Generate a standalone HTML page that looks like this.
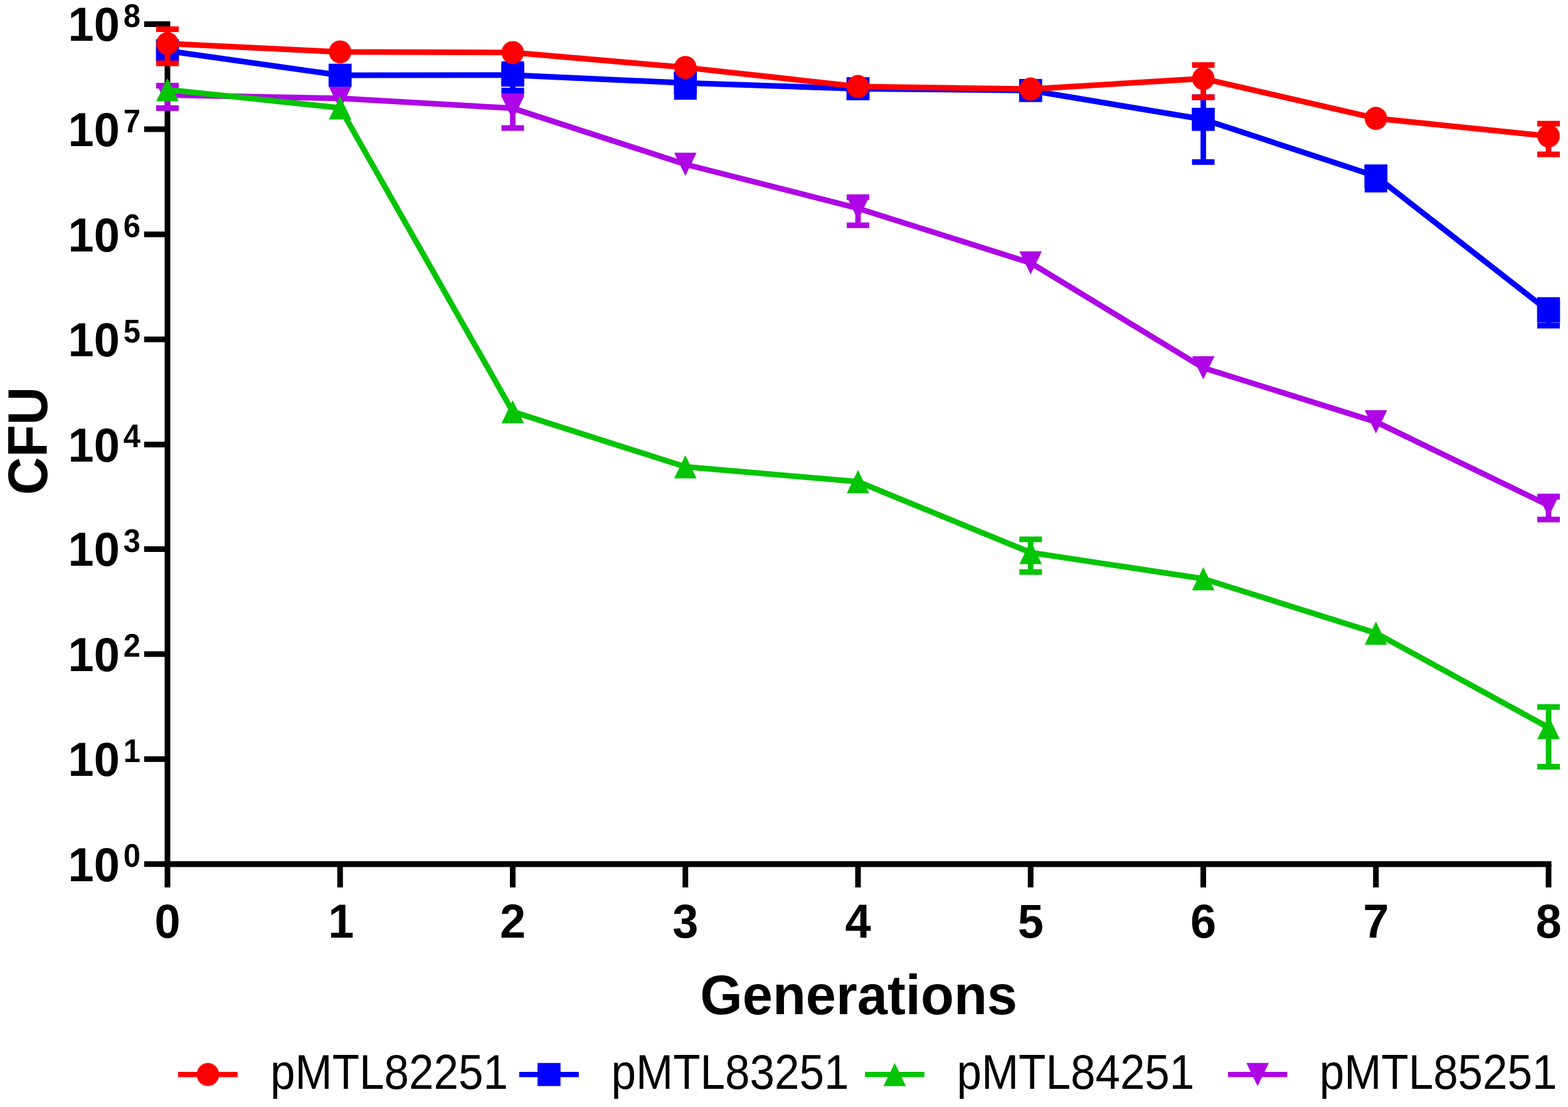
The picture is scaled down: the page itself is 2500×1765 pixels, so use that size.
<!DOCTYPE html>
<html lang="en"><head><meta charset="utf-8"><title>Plasmid stability: CFU over generations</title>
<style>html,body{margin:0;padding:0;background:#fff}body{width:2500px;height:1765px;overflow:hidden}svg{display:block}text{font-family:"Liberation Sans",sans-serif;fill:#000}.b{font-weight:bold}</style>
</head><body>
<svg width="2500" height="1765" viewBox="0 0 2500 1765">
<rect width="2500" height="1765" fill="#ffffff"/>
<g fill="#000000"><rect x="262.5" y="34" width="9" height="1348.2"/><rect x="262.5" y="1373.1" width="2211" height="9.3"/><rect x="229.8" y="1373.2" width="37.2" height="9"/><rect x="229.8" y="1205.8" width="37.2" height="9"/><rect x="229.8" y="1038.4" width="37.2" height="9"/><rect x="229.8" y="871" width="37.2" height="9"/><rect x="229.8" y="704.3" width="37.2" height="9"/><rect x="229.8" y="536.6" width="37.2" height="9"/><rect x="229.8" y="369.2" width="37.2" height="9"/><rect x="229.8" y="201.5" width="37.2" height="9"/><rect x="229.8" y="34" width="37.2" height="9"/><rect x="262.5" y="1377.7" width="9" height="37.2"/><rect x="537.75" y="1377.7" width="9" height="37.2"/><rect x="813" y="1377.7" width="9" height="37.2"/><rect x="1088.25" y="1377.7" width="9" height="37.2"/><rect x="1363.5" y="1377.7" width="9" height="37.2"/><rect x="1638.75" y="1377.7" width="9" height="37.2"/><rect x="1914" y="1377.7" width="9" height="37.2"/><rect x="2189.25" y="1377.7" width="9" height="37.2"/><rect x="2464.5" y="1377.7" width="9" height="37.2"/></g>
<g><text class="b" transform="translate(108.6 1404.5) scale(1 1.035)" font-size="74">10</text><text class="b" transform="translate(196.8 1382.2) scale(1 1.055)" font-size="49">0</text><text class="b" transform="translate(108.6 1237.1) scale(1 1.035)" font-size="74">10</text><text class="b" transform="translate(196.8 1214.8) scale(1 1.055)" font-size="49">1</text><text class="b" transform="translate(108.6 1069.7) scale(1 1.035)" font-size="74">10</text><text class="b" transform="translate(196.8 1047.4) scale(1 1.055)" font-size="49">2</text><text class="b" transform="translate(108.6 902.3) scale(1 1.035)" font-size="74">10</text><text class="b" transform="translate(196.8 880) scale(1 1.055)" font-size="49">3</text><text class="b" transform="translate(108.6 735.6) scale(1 1.035)" font-size="74">10</text><text class="b" transform="translate(196.8 713.3) scale(1 1.055)" font-size="49">4</text><text class="b" transform="translate(108.6 567.9) scale(1 1.035)" font-size="74">10</text><text class="b" transform="translate(196.8 545.6) scale(1 1.055)" font-size="49">5</text><text class="b" transform="translate(108.6 400.5) scale(1 1.035)" font-size="74">10</text><text class="b" transform="translate(196.8 378.2) scale(1 1.055)" font-size="49">6</text><text class="b" transform="translate(108.6 232.8) scale(1 1.035)" font-size="74">10</text><text class="b" transform="translate(196.8 210.5) scale(1 1.055)" font-size="49">7</text><text class="b" transform="translate(108.6 65.3) scale(1 1.035)" font-size="74">10</text><text class="b" transform="translate(196.8 43) scale(1 1.055)" font-size="49">8</text><text class="b" transform="translate(267 1494.8) scale(1 1.035)" font-size="74" text-anchor="middle">0</text><text class="b" transform="translate(543.75 1494.8) scale(1 1.035)" font-size="74" text-anchor="middle">1</text><text class="b" transform="translate(817.5 1494.8) scale(1 1.035)" font-size="74" text-anchor="middle">2</text><text class="b" transform="translate(1092.75 1494.8) scale(1 1.035)" font-size="74" text-anchor="middle">3</text><text class="b" transform="translate(1368 1494.8) scale(1 1.035)" font-size="74" text-anchor="middle">4</text><text class="b" transform="translate(1643.25 1494.8) scale(1 1.035)" font-size="74" text-anchor="middle">5</text><text class="b" transform="translate(1918.5 1494.8) scale(1 1.035)" font-size="74" text-anchor="middle">6</text><text class="b" transform="translate(2193.75 1494.8) scale(1 1.035)" font-size="74" text-anchor="middle">7</text><text class="b" transform="translate(2469 1494.8) scale(1 1.035)" font-size="74" text-anchor="middle">8</text><text class="b" transform="translate(1369.15 1616.6) scale(1 1.037)" font-size="86.7" text-anchor="middle">Generations</text><text class="b" transform="translate(75.1 703.1) rotate(-90) scale(1 1.071)" font-size="83.9" text-anchor="middle">CFU</text></g>
<g><polyline points="267,151.5 542.25,156.8 817.5,172.6 1092.75,262 1368,332.2 1643.25,419.2 1918.5,586.5 2193.75,672.6 2469,805.8" fill="none" stroke="#ae06e6" stroke-width="9" stroke-linejoin="round"/><rect x="262.6" y="136.6" width="8.8" height="35.8" fill="#ae06e6"/><rect x="249" y="132.1" width="36" height="9" fill="#ae06e6"/><rect x="249" y="167.9" width="36" height="9" fill="#ae06e6"/><rect x="813.1" y="150.7" width="8.8" height="53.4" fill="#ae06e6"/><rect x="799.5" y="146.2" width="36" height="9" fill="#ae06e6"/><rect x="799.5" y="199.6" width="36" height="9" fill="#ae06e6"/><rect x="1363.6" y="314.4" width="8.8" height="44.8" fill="#ae06e6"/><rect x="1350" y="309.9" width="36" height="9" fill="#ae06e6"/><rect x="1350" y="354.7" width="36" height="9" fill="#ae06e6"/><rect x="2464.6" y="792.1" width="8.8" height="36.2" fill="#ae06e6"/><rect x="2451" y="787.6" width="36" height="9" fill="#ae06e6"/><rect x="2451" y="823.8" width="36" height="9" fill="#ae06e6"/><polygon points="249.1,133 284.9,133 267,170" fill="#ae06e6"/><polygon points="524.35,138.3 560.15,138.3 542.25,175.3" fill="#ae06e6"/><polygon points="799.6,154.1 835.4,154.1 817.5,191.1" fill="#ae06e6"/><polygon points="1074.85,243.5 1110.65,243.5 1092.75,280.5" fill="#ae06e6"/><polygon points="1350.1,313.7 1385.9,313.7 1368,350.7" fill="#ae06e6"/><polygon points="1625.35,400.7 1661.15,400.7 1643.25,437.7" fill="#ae06e6"/><polygon points="1900.6,568 1936.4,568 1918.5,605" fill="#ae06e6"/><polygon points="2175.85,654.1 2211.65,654.1 2193.75,691.1" fill="#ae06e6"/><polygon points="2451.1,787.3 2486.9,787.3 2469,824.3" fill="#ae06e6"/></g>
<g><polyline points="267,143 542.25,172 817.5,656.4 1092.75,744.3 1368,768 1643.25,881 1918.5,922.7 2193.75,1009.4 2469,1160" fill="none" stroke="#05c405" stroke-width="9" stroke-linejoin="round"/><rect x="1638.85" y="859.9" width="8.8" height="52.1" fill="#05c405"/><rect x="1625.25" y="855.4" width="36" height="9" fill="#05c405"/><rect x="1625.25" y="907.5" width="36" height="9" fill="#05c405"/><rect x="2464.6" y="1127.2" width="8.8" height="95.3" fill="#05c405"/><rect x="2451" y="1122.7" width="36" height="9" fill="#05c405"/><rect x="2451" y="1218" width="36" height="9" fill="#05c405"/><polygon points="267,124.5 284.9,161.5 249.1,161.5" fill="#05c405"/><polygon points="542.25,153.5 560.15,190.5 524.35,190.5" fill="#05c405"/><polygon points="817.5,637.9 835.4,674.9 799.6,674.9" fill="#05c405"/><polygon points="1092.75,725.8 1110.65,762.8 1074.85,762.8" fill="#05c405"/><polygon points="1368,749.5 1385.9,786.5 1350.1,786.5" fill="#05c405"/><polygon points="1643.25,862.5 1661.15,899.5 1625.35,899.5" fill="#05c405"/><polygon points="1918.5,904.2 1936.4,941.2 1900.6,941.2" fill="#05c405"/><polygon points="2193.75,990.9 2211.65,1027.9 2175.85,1027.9" fill="#05c405"/><polygon points="2469,1141.5 2486.9,1178.5 2451.1,1178.5" fill="#05c405"/></g>
<g><polyline points="267,81 542.25,120 817.5,119.8 1092.75,132.3 1368,141.5 1643.25,144.3 1918.5,190.3 2193.75,281 2469,496" fill="none" stroke="#0000ff" stroke-width="9" stroke-linejoin="round"/><rect x="813.1" y="102.2" width="8.8" height="42.2" fill="#0000ff"/><rect x="799.5" y="97.7" width="36" height="9" fill="#0000ff"/><rect x="799.5" y="139.9" width="36" height="9" fill="#0000ff"/><rect x="1088.35" y="118.5" width="8.8" height="36" fill="#0000ff"/><rect x="1074.75" y="114" width="36" height="9" fill="#0000ff"/><rect x="1074.75" y="150" width="36" height="9" fill="#0000ff"/><rect x="1914.1" y="155" width="8.8" height="103.4" fill="#0000ff"/><rect x="1900.5" y="150.5" width="36" height="9" fill="#0000ff"/><rect x="1900.5" y="253.9" width="36" height="9" fill="#0000ff"/><rect x="2189.35" y="266.8" width="8.8" height="35.5" fill="#0000ff"/><rect x="2175.75" y="262.3" width="36" height="9" fill="#0000ff"/><rect x="2175.75" y="297.8" width="36" height="9" fill="#0000ff"/><rect x="2464.6" y="478.3" width="8.8" height="40.9" fill="#0000ff"/><rect x="2451" y="473.8" width="36" height="9" fill="#0000ff"/><rect x="2451" y="514.7" width="36" height="9" fill="#0000ff"/><rect x="248.65" y="62.6" width="36.7" height="36.8" fill="#0000ff"/><rect x="523.9" y="101.6" width="36.7" height="36.8" fill="#0000ff"/><rect x="799.15" y="101.4" width="36.7" height="36.8" fill="#0000ff"/><rect x="1074.4" y="113.9" width="36.7" height="36.8" fill="#0000ff"/><rect x="1349.65" y="123.1" width="36.7" height="36.8" fill="#0000ff"/><rect x="1624.9" y="125.9" width="36.7" height="36.8" fill="#0000ff"/><rect x="1900.15" y="171.9" width="36.7" height="36.8" fill="#0000ff"/><rect x="2175.4" y="262.6" width="36.7" height="36.8" fill="#0000ff"/><rect x="2450.65" y="477.6" width="36.7" height="36.8" fill="#0000ff"/></g>
<g><polyline points="267,69.5 542.25,82.8 817.5,83.8 1092.75,107.6 1368,138 1643.25,142 1918.5,125.3 2193.75,188.7 2469,217" fill="none" stroke="#ff0000" stroke-width="9" stroke-linejoin="round"/><rect x="262.6" y="46.6" width="8.8" height="54.4" fill="#ff0000"/><rect x="249" y="42.1" width="36" height="9" fill="#ff0000"/><rect x="249" y="96.5" width="36" height="9" fill="#ff0000"/><rect x="1914.1" y="103.7" width="8.8" height="51.4" fill="#ff0000"/><rect x="1900.5" y="99.2" width="36" height="9" fill="#ff0000"/><rect x="1900.5" y="150.6" width="36" height="9" fill="#ff0000"/><rect x="2464.6" y="197.2" width="8.8" height="48.9" fill="#ff0000"/><rect x="2451" y="192.7" width="36" height="9" fill="#ff0000"/><rect x="2451" y="241.6" width="36" height="9" fill="#ff0000"/><ellipse cx="267" cy="69.5" rx="17.9" ry="18.4" fill="#ff0000"/><ellipse cx="542.25" cy="82.8" rx="17.9" ry="18.4" fill="#ff0000"/><ellipse cx="817.5" cy="83.8" rx="17.9" ry="18.4" fill="#ff0000"/><ellipse cx="1092.75" cy="107.6" rx="17.9" ry="18.4" fill="#ff0000"/><ellipse cx="1368" cy="138" rx="17.9" ry="18.4" fill="#ff0000"/><ellipse cx="1643.25" cy="142" rx="17.9" ry="18.4" fill="#ff0000"/><ellipse cx="1918.5" cy="125.3" rx="17.9" ry="18.4" fill="#ff0000"/><ellipse cx="2193.75" cy="188.7" rx="17.9" ry="18.4" fill="#ff0000"/><ellipse cx="2469" cy="217" rx="17.9" ry="18.4" fill="#ff0000"/></g>
<g><rect x="284" y="1709" width="94.9" height="8.4" fill="#ff0000"/><ellipse cx="331.45" cy="1713.2" rx="17.9" ry="18.4" fill="#ff0000"/><text transform="translate(431.1 1736.2) scale(1 1.088)" font-size="71">pMTL82251</text><rect x="827.8" y="1709" width="95.1" height="8.4" fill="#0000ff"/><rect x="857" y="1694.8" width="36.7" height="36.8" fill="#0000ff"/><text transform="translate(974.6 1736.2) scale(1 1.088)" font-size="71">pMTL83251</text><rect x="1379.2" y="1709" width="94.6" height="8.4" fill="#05c405"/><polygon points="1426.5,1694.7 1444.4,1731.7 1408.6,1731.7" fill="#05c405"/><text transform="translate(1525.5 1736.2) scale(1 1.088)" font-size="71">pMTL84251</text><rect x="1958" y="1709" width="94.3" height="8.4" fill="#ae06e6"/><polygon points="1987.25,1694.7 2023.05,1694.7 2005.15,1731.7" fill="#ae06e6"/><text transform="translate(2103.7 1736.2) scale(1 1.088)" font-size="71">pMTL85251</text></g>
</svg>
</body></html>
